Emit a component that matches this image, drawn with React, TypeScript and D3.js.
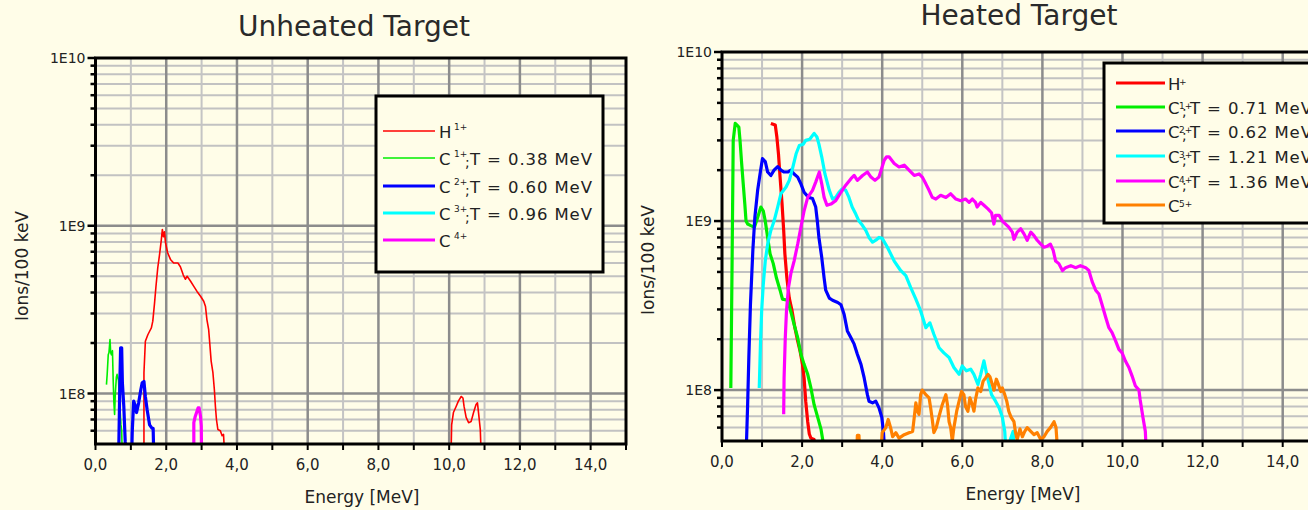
import React from 'react';
import * as d3 from 'd3';

type Pt = [number, number];

// ---------- axis ticks ----------
const energyTicks = [0, 2, 4, 6, 8, 10, 12, 14];
const energyTickLabels = ['0,0', '2,0', '4,0', '6,0', '8,0', '10,0', '12,0', '14,0'];
const decadeTicks = [1e8, 1e9, 1e10];
const decadeTickLabels = ['1E8', '1E9', '1E10'];

// ---------- Unheated target (E [MeV], ions/100 keV) ----------
const unheatedH: Pt[] = [
  [1.37, 4e7], [1.37, 1.33e8], [1.41, 2.05e8], [1.48, 2.24e8], [1.53, 2.35e8], [1.58, 2.46e8],
  [1.62, 2.7e8], [1.67, 3.47e8], [1.71, 4.36e8], [1.76, 5.6e8], [1.81, 6.7e8], [1.86, 8.2e8],
  [1.89, 9.5e8], [1.92, 8.6e8], [1.95, 9.2e8], [1.98, 7.9e8], [2.04, 6.9e8], [2.12, 6.3e8],
  [2.21, 6.0e8], [2.33, 6.0e8], [2.4, 5.7e8], [2.48, 5.1e8], [2.54, 4.8e8], [2.59, 5.0e8],
  [2.68, 4.7e8], [2.78, 4.35e8], [2.87, 4.06e8], [2.97, 3.8e8], [3.06, 3.55e8], [3.11, 3.3e8],
  [3.15, 2.76e8], [3.2, 2.4e8], [3.23, 2.0e8], [3.27, 1.56e8], [3.32, 1.33e8], [3.36, 1.06e8],
  [3.39, 8.4e7], [3.42, 7.0e7], [3.46, 6.1e7], [3.53, 6.0e7], [3.58, 5.6e7], [3.62, 5.7e7],
  [3.66, 4e7], [10.05, 4e7], [10.07, 6.5e7], [10.12, 7.7e7], [10.2, 8.4e7], [10.26, 9e7],
  [10.34, 9.6e7], [10.39, 9.4e7], [10.42, 8.4e7], [10.48, 7.2e7], [10.55, 6.7e7], [10.62, 6.8e7],
  [10.69, 7.7e7], [10.76, 8.6e7], [10.8, 8.8e7], [10.83, 7.7e7], [10.88, 6.1e7], [10.91, 4e7],
];
const unheatedC1: Pt[] = [
  [0.31, 1.13e8], [0.33, 1.3e8], [0.36, 1.7e8], [0.38, 1.75e8], [0.41, 2.1e8], [0.43, 1.75e8],
  [0.45, 1.7e8], [0.48, 1.8e8], [0.5, 1.2e8], [0.52, 8.8e7], [0.54, 7.5e7], [0.56, 1.0e8],
  [0.59, 1.25e8], [0.61, 1.3e8], [0.65, 1.2e8], [0.68, 9e7], [0.72, 6.5e7], [0.74, 6e7], [0.76, 4e7],
];
const unheatedC2: Pt[] = [
  [0.64, 4e7], [0.66, 5e7], [0.69, 1.2e8], [0.71, 1.87e8], [0.74, 1.87e8], [0.76, 1.16e8],
  [0.8, 8.4e7], [0.84, 5.2e7], [0.88, 4e7], [1.02, 4e7], [1.04, 6e7], [1.08, 9e7], [1.12, 8.5e7],
  [1.16, 7.7e7], [1.22, 8.8e7], [1.28, 1.05e8], [1.32, 1.16e8], [1.37, 1.18e8], [1.41, 9.6e7],
  [1.46, 8e7], [1.53, 6.5e7], [1.6, 6.2e7], [1.63, 6.2e7], [1.65, 4e7],
];
const unheatedC3: Pt[] = [];
const unheatedC4: Pt[] = [
  [2.78, 4e7], [2.78, 6.7e7], [2.82, 7.3e7], [2.87, 7.85e7], [2.9, 8.2e7], [2.93, 8.2e7],
  [2.97, 7.3e7], [2.99, 6.4e7], [3.0, 4e7],
];

// ---------- Heated target ----------
const heatedH: Pt[] = [
  [1.22, 3.78e9], [1.33, 3.7e9], [1.37, 3.14e9], [1.41, 2.5e9], [1.45, 1.82e9], [1.5, 1.26e9],
  [1.54, 8.8e8], [1.57, 6.4e8], [1.62, 4.6e8], [1.68, 3.5e8], [1.75, 2.94e8], [1.82, 2.34e8],
  [1.89, 1.95e8], [1.95, 1.7e8], [2.01, 1.42e8], [2.05, 1.18e8], [2.09, 8.6e7], [2.14, 6.5e7],
  [2.18, 5.5e7], [2.22, 5.2e7], [2.3, 5.1e7], [2.34, 4e7],
];
const heatedC1: Pt[] = [
  [0.22, 1.03e8], [0.25, 5.1e8], [0.28, 3.0e9], [0.33, 3.78e9], [0.37, 3.7e9], [0.42, 3.6e9],
  [0.45, 3.0e9], [0.49, 2.2e9], [0.53, 1.66e9], [0.57, 1.26e9], [0.6, 1.0e9], [0.64, 9.6e8],
  [0.72, 9.4e8], [0.81, 9.2e8], [0.89, 1.05e9], [0.97, 1.21e9], [1.03, 1.15e9], [1.08, 1.0e9],
  [1.14, 8e8], [1.2, 6.4e8], [1.28, 5.6e8], [1.36, 4.6e8], [1.45, 3.9e8], [1.51, 3.45e8],
  [1.64, 3.4e8], [1.72, 2.9e8], [1.8, 2.45e8], [1.89, 2.04e8], [1.97, 1.63e8], [2.05, 1.42e8],
  [2.14, 1.24e8], [2.22, 1.03e8], [2.3, 8.2e7], [2.39, 6.9e7], [2.47, 5.9e7], [2.52, 5e7], [2.54, 4e7],
];
const heatedC2: Pt[] = [
  [0.6, 4e7], [0.64, 8.2e7], [0.67, 1.56e8], [0.71, 3.2e8], [0.77, 6.7e8], [0.82, 1.05e9],
  [0.89, 1.52e9], [0.95, 1.9e9], [1.01, 2.34e9], [1.08, 2.25e9], [1.14, 1.95e9], [1.22, 1.86e9],
  [1.3, 2.0e9], [1.39, 2.1e9], [1.47, 2.0e9], [1.55, 1.95e9], [1.64, 1.95e9], [1.72, 2.0e9],
  [1.8, 1.9e9], [1.89, 1.82e9], [1.97, 1.66e9], [2.05, 1.48e9], [2.16, 1.38e9], [2.26, 1.36e9],
  [2.34, 1.21e9], [2.38, 1.0e9], [2.42, 8.0e8], [2.49, 6.1e8], [2.55, 4.6e8], [2.59, 3.9e8],
  [2.68, 3.5e8], [2.76, 3.4e8], [2.89, 3.3e8], [2.97, 3.2e8], [3.05, 2.8e8], [3.13, 2.24e8],
  [3.22, 2.04e8], [3.3, 1.87e8], [3.38, 1.63e8], [3.47, 1.42e8], [3.55, 1.18e8], [3.63, 9.4e7],
  [3.67, 8.6e7], [3.76, 8.4e7], [3.84, 8.6e7], [3.92, 7.85e7], [3.99, 6.9e7], [4.03, 5.7e7], [4.07, 4e7],
];
const heatedC3: Pt[] = [
  [0.93, 1.03e8], [0.96, 1.87e8], [0.99, 2.94e8], [1.03, 4.2e8], [1.08, 5.8e8], [1.14, 7.3e8],
  [1.22, 8.8e8], [1.3, 1.0e9], [1.39, 1.21e9], [1.47, 1.45e9], [1.6, 1.59e9], [1.68, 1.74e9],
  [1.76, 2.04e9], [1.85, 2.5e9], [1.93, 2.8e9], [2.03, 2.85e9], [2.09, 3.0e9], [2.19, 3.05e9],
  [2.3, 3.3e9], [2.37, 3.14e9], [2.42, 2.85e9], [2.49, 2.4e9], [2.57, 1.9e9], [2.68, 1.52e9],
  [2.76, 1.35e9], [2.84, 1.38e9], [2.92, 1.48e9], [3.0, 1.55e9], [3.09, 1.52e9], [3.17, 1.38e9],
  [3.25, 1.21e9], [3.34, 1.1e9], [3.42, 1.0e9], [3.51, 9.4e8], [3.59, 8.8e8], [3.67, 8.0e8],
  [3.76, 7.5e8], [3.84, 7.7e8], [3.92, 8.0e8], [4.0, 7.9e8], [4.13, 7.0e8], [4.3, 5.8e8],
  [4.46, 5.1e8], [4.59, 4.75e8], [4.71, 4.05e8], [4.84, 3.45e8], [4.96, 2.94e8], [5.09, 2.34e8],
  [5.19, 2.5e8], [5.29, 2.14e8], [5.42, 1.78e8], [5.54, 1.66e8], [5.67, 1.56e8], [5.79, 1.36e8],
  [5.92, 1.24e8], [6.0, 1.39e8], [6.1, 1.3e8], [6.21, 1.33e8], [6.29, 1.24e8], [6.39, 1.08e8],
  [6.46, 1.24e8], [6.54, 1.49e8], [6.61, 1.24e8], [6.67, 1.08e8], [6.73, 9.4e7], [6.83, 8.6e7],
  [6.92, 7.85e7], [7.0, 6.9e7], [7.06, 5.7e7], [7.1, 4e7], [7.2, 5.1e7], [7.27, 5.7e7], [7.3, 4e7],
];
const heatedC4: Pt[] = [
  [1.54, 7.2e7], [1.55, 1.18e8], [1.58, 2.04e8], [1.61, 2.94e8], [1.66, 4.05e8], [1.72, 4.9e8],
  [1.8, 5.8e8], [1.89, 7.3e8], [1.97, 9.2e8], [2.05, 1.15e9], [2.14, 1.38e9], [2.26, 1.52e9],
  [2.34, 1.7e9], [2.43, 1.95e9], [2.49, 1.66e9], [2.55, 1.38e9], [2.62, 1.24e9], [2.72, 1.26e9],
  [2.84, 1.32e9], [2.97, 1.48e9], [3.09, 1.63e9], [3.22, 1.78e9], [3.3, 1.86e9], [3.38, 1.74e9],
  [3.51, 1.86e9], [3.63, 1.95e9], [3.72, 1.82e9], [3.82, 1.74e9], [3.92, 1.82e9], [4.05, 2.29e9],
  [4.11, 2.4e9], [4.17, 2.4e9], [4.3, 2.19e9], [4.42, 2.09e9], [4.55, 2.14e9], [4.67, 2.0e9],
  [4.8, 1.86e9], [4.92, 1.9e9], [5.0, 1.82e9], [5.09, 1.66e9], [5.17, 1.52e9], [5.25, 1.38e9],
  [5.34, 1.35e9], [5.46, 1.42e9], [5.59, 1.38e9], [5.71, 1.45e9], [5.84, 1.35e9], [5.96, 1.32e9],
  [6.08, 1.35e9], [6.17, 1.29e9], [6.25, 1.35e9], [6.33, 1.29e9], [6.37, 1.21e9], [6.46, 1.29e9],
  [6.54, 1.24e9], [6.64, 1.18e9], [6.73, 1.12e9], [6.79, 9.6e8], [6.83, 1.08e9], [6.92, 1.08e9],
  [7.0, 1.0e9], [7.08, 9.6e8], [7.16, 9.2e8], [7.25, 8.6e8], [7.29, 7.8e8], [7.37, 8.6e8],
  [7.46, 9.0e8], [7.54, 8.4e8], [7.62, 7.7e8], [7.71, 8.6e8], [7.79, 8.2e8], [7.87, 7.7e8],
  [7.96, 7.3e8], [8.04, 7.0e8], [8.12, 7.1e8], [8.2, 7.3e8], [8.27, 6.7e8], [8.33, 5.8e8],
  [8.41, 5.6e8], [8.5, 5.1e8], [8.58, 5.3e8], [8.71, 5.45e8], [8.83, 5.3e8], [8.95, 5.45e8],
  [9.08, 5.3e8], [9.16, 5.1e8], [9.24, 4.4e8], [9.33, 3.9e8], [9.41, 3.7e8], [9.49, 3.2e8],
  [9.58, 2.7e8], [9.66, 2.34e8], [9.74, 2.19e8], [9.83, 1.95e8], [9.91, 1.74e8], [9.99, 1.66e8],
  [10.07, 1.49e8], [10.16, 1.36e8], [10.24, 1.21e8], [10.32, 1.06e8], [10.41, 1.0e8], [10.44, 8.8e7],
  [10.51, 6.9e7], [10.57, 5.7e7], [10.6, 4e7],
];
const heatedC5: Pt[] = [
  [3.36, 4e7], [3.38, 5.4e7], [3.42, 5.4e7], [3.44, 4e7], [3.96, 4e7], [4.0, 5.6e7], [4.09, 6e7],
  [4.15, 6.7e7], [4.21, 6e7], [4.26, 5.3e7], [4.34, 5.6e7], [4.42, 5.2e7], [4.55, 5.45e7],
  [4.67, 5.6e7], [4.76, 5.7e7], [4.8, 6.9e7], [4.84, 8.4e7], [4.88, 7.5e7], [4.92, 7.2e7],
  [4.96, 9.4e7], [5.0, 1.0e8], [5.09, 9.4e7], [5.17, 9e7], [5.21, 7.85e7], [5.25, 6.7e7],
  [5.29, 5.6e7], [5.35, 6e7], [5.42, 7e7], [5.5, 8.2e7], [5.59, 9.4e7], [5.63, 8.2e7],
  [5.67, 6.5e7], [5.71, 6e7], [5.75, 5e7], [5.79, 6e7], [5.86, 7.5e7], [5.92, 8.6e7],
  [5.98, 9.8e7], [6.04, 9.4e7], [6.08, 8e7], [6.14, 7.5e7], [6.19, 9e7], [6.25, 8.2e7],
  [6.29, 7.5e7], [6.33, 8.8e7], [6.39, 1.03e8], [6.46, 9.8e7], [6.52, 1.13e8], [6.58, 1.18e8],
  [6.64, 1.24e8], [6.69, 1.2e8], [6.75, 1.08e8], [6.79, 1.0e8], [6.85, 1.16e8], [6.89, 1.1e8],
  [6.96, 9.8e7], [7.0, 1.03e8], [7.06, 9.4e7], [7.11, 8.6e7], [7.16, 7.5e7], [7.22, 6.9e7],
  [7.29, 6.5e7], [7.33, 5.6e7], [7.37, 5.1e7], [7.44, 5.9e7], [7.5, 5.3e7], [7.56, 5.7e7],
  [7.62, 6e7], [7.71, 5.7e7], [7.79, 5.45e7], [7.87, 5.6e7], [7.96, 5.1e7], [8.04, 5.3e7],
  [8.12, 5.7e7], [8.2, 6e7], [8.29, 6.5e7], [8.34, 6e7], [8.39, 4e7],
];

// ---------- legends ----------
const unheatedLabels = [
  { base: 'H', sup: '1+', rest: '' },
  { base: 'C', sup: '1+', rest: 'T = 0.38 MeV' },
  { base: 'C', sup: '2+', rest: 'T = 0.60 MeV' },
  { base: 'C', sup: '3+', rest: 'T = 0.96 MeV' },
  { base: 'C', sup: '4+', rest: '' },
];
const heatedLabels = [
  { base: 'H', sup: '+', rest: '' },
  { base: 'C', sup: '1+', rest: 'T = 0.71 MeV' },
  { base: 'C', sup: '2+', rest: 'T = 0.62 MeV' },
  { base: 'C', sup: '3+', rest: 'T = 1.21 MeV' },
  { base: 'C', sup: '4+', rest: 'T = 1.36 MeV' },
  { base: 'C', sup: '5+', rest: '' },
];

const RED = '#ff0000';
const GREEN = '#00ee00';
const BLUE = '#0000ff';
const CYAN = '#00ffff';
const MAGENTA = '#ff00ff';
const ORANGE = '#ff8000';
const BG = '#fffde8';
const FONT = '"DejaVu Sans", "Liberation Sans", sans-serif';

interface SeriesDef { data: Pt[]; color: string; width: number; }
interface LegendLayout {
  x: number; y: number; w: number; h: number;
  lineX0: number; lineX1: number; rows: number[]; textX: number;
  supDx: number; supDy: number; semiDx: number; restDx: number;
}
interface PanelProps {
  id: string;
  frame: { left: number; right: number; top: number; bottom: number };
  series: SeriesDef[];
  labels: { base: string; sup: string; rest: string }[];
  legend: LegendLayout;
  title: string; titleX: number; titleY: number;
  yTitleX: number; yTitleY: number;
  xTitleX: number; xTitleY: number;
  xTickY: number;
}

function Panel(p: PanelProps) {
  const { frame } = p;
  const x = d3.scaleLinear().domain([0, 15]).range([frame.left, frame.right]);
  const y = d3.scaleLog().domain([5e7, 1e10]).range([frame.bottom, frame.top]);
  const line = d3.line<Pt>().x((d) => x(d[0])).y((d) => y(d[1]));

  const minorY: number[] = [];
  [1e7, 1e8, 1e9].forEach((dec) => {
    for (let m = 2; m <= 9; m++) {
      const v = m * dec;
      if (v > 5e7 && v < 1e10) minorY.push(v);
    }
  });
  const gridX = d3.range(1, 15);
  const tickX = d3.range(0, 16);
  const clipId = `clip-${p.id}`;
  const L = p.legend;

  return (
    <g>
      <defs>
        <clipPath id={clipId}>
          <rect x={frame.left} y={frame.top} width={frame.right - frame.left} height={frame.bottom - frame.top} />
        </clipPath>
      </defs>
      {/* grid */}
      {minorY.map((v) => (
        <line key={`my${v}`} x1={frame.left} x2={frame.right} y1={y(v)} y2={y(v)} stroke="#c2c2c2" strokeWidth={2} />
      ))}
      {gridX.map((v) => (
        <line key={`gx${v}`} x1={x(v)} x2={x(v)} y1={frame.top} y2={frame.bottom}
          stroke={v % 2 === 0 ? '#8c8c8c' : '#c4c4c4'} strokeWidth={v % 2 === 0 ? 2.5 : 2} />
      ))}
      {[1e8, 1e9].map((v) => (
        <line key={`My${v}`} x1={frame.left} x2={frame.right} y1={y(v)} y2={y(v)} stroke="#8c8c8c" strokeWidth={2.5} />
      ))}
      {/* data */}
      <g clipPath={`url(#${clipId})`}>
        {p.series.map((s, i) =>
          s.data.length ? (
            <path key={i} d={line(s.data) || ''} fill="none" stroke={s.color} strokeWidth={s.width} strokeLinejoin="round" />
          ) : null
        )}
      </g>
      {/* frame */}
      <rect x={frame.left} y={frame.top} width={frame.right - frame.left} height={frame.bottom - frame.top}
        fill="none" stroke="#000" strokeWidth={3} />
      {/* y ticks */}
      {minorY.map((v) => (
        <line key={`ty${v}`} x1={frame.left - 5} x2={frame.left} y1={y(v)} y2={y(v)} stroke="#000" strokeWidth={2.5} />
      ))}
      {decadeTicks.map((v) => (
        <line key={`tY${v}`} x1={frame.left - 8} x2={frame.left} y1={y(v)} y2={y(v)} stroke="#000" strokeWidth={2.5} />
      ))}
      {decadeTicks.map((v, i) => (
        <text key={`ly${v}`} x={frame.left - 10} y={y(v) + 5} textAnchor="end" fontSize={14} fill="#222" fontFamily={FONT}>
          {decadeTickLabels[i]}
        </text>
      ))}
      {/* x ticks */}
      {tickX.map((v) => (
        <line key={`tx${v}`} x1={x(v)} x2={x(v)} y1={frame.bottom} y2={frame.bottom + 6} stroke="#000" strokeWidth={2} />
      ))}
      {energyTicks.map((v, i) => (
        <text key={`lx${v}`} x={x(v)} y={p.xTickY} textAnchor="middle" fontSize={15} fill="#222" fontFamily={FONT}>
          {energyTickLabels[i]}
        </text>
      ))}
      {/* titles */}
      <text x={p.titleX} y={p.titleY} textAnchor="middle" fontSize={28} fill="#2a2a2a" fontFamily={FONT}>{p.title}</text>
      <text x={p.xTitleX} y={p.xTitleY} textAnchor="middle" fontSize={17} fill="#222" fontFamily={FONT}>Energy [MeV]</text>
      <text transform={`translate(${p.yTitleX},${p.yTitleY}) rotate(-90)`} textAnchor="middle" fontSize={17} fill="#222" fontFamily={FONT}>
        Ions/100 keV
      </text>
      {/* legend */}
      <rect x={L.x} y={L.y} width={L.w} height={L.h} fill={BG} stroke="#000" strokeWidth={3} />
      {p.labels.map((lab, i) => {
        const ry = L.rows[i];
        const s = p.series[i];
        return (
          <g key={`lg${i}`}>
            <line x1={L.lineX0} x2={L.lineX1} y1={ry} y2={ry} stroke={s.color} strokeWidth={Math.max(s.width, 1.5)} />
            <text fontSize={16.5} fill="#222" fontFamily={FONT}>
              <tspan x={L.textX} y={ry + 6.5}>{lab.base}</tspan>
              <tspan x={L.textX + L.supDx} y={ry + L.supDy} fontSize={9}>{lab.sup}</tspan>
              {lab.rest ? <tspan x={L.textX + L.semiDx} y={ry + 8.5} fontSize={14}>;</tspan> : null}
              {lab.rest ? <tspan x={L.textX + L.restDx} y={ry + 6.5} letterSpacing={0.9}>{lab.rest}</tspan> : null}
            </text>
          </g>
        );
      })}
    </g>
  );
}

export default function App() {
  return (
    <svg width={1308} height={510} style={{ position: 'absolute', left: 0, top: 0, background: BG }}>
      <rect x={0} y={0} width={1308} height={510} fill={BG} />
      <Panel
        id="unheated"
        frame={{ left: 95.5, right: 626, top: 58, bottom: 444 }}
        series={[
          { data: unheatedH, color: RED, width: 1.6 },
          { data: unheatedC1, color: GREEN, width: 1.6 },
          { data: unheatedC2, color: BLUE, width: 3.2 },
          { data: unheatedC3, color: CYAN, width: 3.2 },
          { data: unheatedC4, color: MAGENTA, width: 3.2 },
        ]}
        labels={unheatedLabels}
        legend={{ x: 376, y: 96, w: 227, h: 176, lineX0: 383, lineX1: 435, rows: [131, 158, 186, 213, 240], textX: 439, supDx: 15, supDy: -1, semiDx: 26, restDx: 31 }}
        title="Unheated Target" titleX={354} titleY={36}
        yTitleX={28} yTitleY={266}
        xTitleX={362} xTitleY={503}
        xTickY={470}
      />
      <Panel
        id="heated"
        frame={{ left: 722, right: 1322.75, top: 52, bottom: 441 }}
        series={[
          { data: heatedH, color: RED, width: 3.2 },
          { data: heatedC1, color: GREEN, width: 3.2 },
          { data: heatedC2, color: BLUE, width: 3.2 },
          { data: heatedC3, color: CYAN, width: 3.2 },
          { data: heatedC4, color: MAGENTA, width: 3.2 },
          { data: heatedC5, color: ORANGE, width: 3.2 },
        ]}
        labels={heatedLabels}
        legend={{ x: 1104, y: 63, w: 240, h: 160, lineX0: 1116, lineX1: 1165, rows: [83, 107, 131, 156, 181, 205], textX: 1168, supDx: 11, supDy: 2, semiDx: 14, restDx: 22 }}
        title="Heated Target" titleX={1019} titleY={25}
        yTitleX={654} yTitleY={260}
        xTitleX={1023} xTitleY={500}
        xTickY={467}
      />
    </svg>
  );
}
